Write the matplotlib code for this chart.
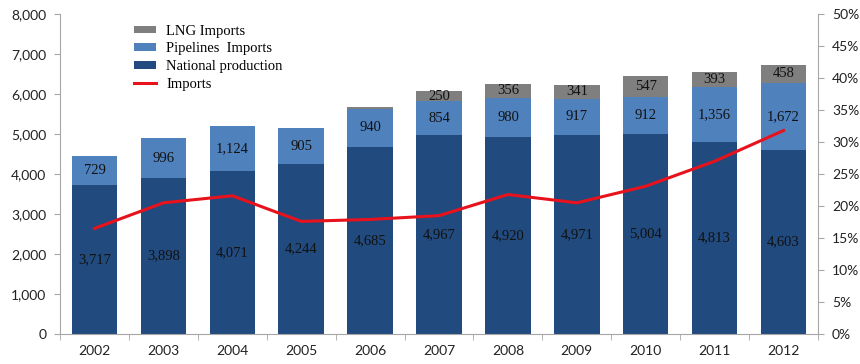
import matplotlib.pyplot as plt
import numpy as np
from matplotlib.ticker import FuncFormatter, FixedLocator

years = ["2002", "2003", "2004", "2005", "2006", "2007", "2008", "2009", "2010", "2011", "2012"]
national = [3717, 3898, 4071, 4244, 4685, 4967, 4920, 4971, 5004, 4813, 4603]
pipelines = [729, 996, 1124, 905, 940, 854, 980, 917, 912, 1356, 1672]
lng = [0, 0, 0, 0, 55, 250, 356, 341, 547, 393, 458]
imports_share = [16.5, 20.5, 21.6, 17.6, 17.9, 18.5, 21.8, 20.5, 23.1, 27.0, 31.8]

c_nat = "#214a7e"
c_pipe = "#4f81bd"
c_lng = "#7f7f7f"
c_line = "#e8121c"
c_axis = "#a6a6a6"
serif = "Liberation Serif"
tickfont = "Lato"

fig = plt.figure(figsize=(8.6, 3.64), dpi=100)
ax = fig.add_axes([0.0698, 0.0824, 0.8814, 0.879])
ax2 = ax.twinx()

x = np.arange(len(years))
w = 0.66
nat = np.array(national)
pipe = np.array(pipelines)
gas = np.array(lng)

b1 = ax.bar(x, nat, w, color=c_nat, label="National production")
b2 = ax.bar(x, pipe, w, bottom=nat, color=c_pipe, label="Pipelines  Imports")
b3 = ax.bar(x, gas, w, bottom=nat + pipe, color=c_lng, label="LNG Imports")

# value labels in the middle of each segment
for i in range(len(years)):
    ax.text(x[i], nat[i] / 2, f"{nat[i]:,}", ha="center", va="center",
            fontsize=10.5, family=serif, color="#111111")
    ax.text(x[i], nat[i] + pipe[i] / 2, f"{pipe[i]:,}", ha="center", va="center",
            fontsize=10.5, family=serif, color="#111111")
    if gas[i] >= 100:
        ax.text(x[i], nat[i] + pipe[i] + gas[i] / 2, f"{gas[i]:,}", ha="center",
                va="center", fontsize=10.5, family=serif, color="#111111")

ln, = ax2.plot(x, imports_share, color=c_line, lw=2.2, label="Imports")

ax.set_xlim(-0.5, len(years) - 0.5)
ax.set_ylim(0, 8000)
ax2.set_ylim(0, 50)
ax.set_yticks(np.arange(0, 8001, 1000))
ax2.set_yticks(np.arange(0, 51, 5))
ax.yaxis.set_major_formatter(FuncFormatter(lambda v, p: f"{int(v):,}"))
ax2.yaxis.set_major_formatter(FuncFormatter(lambda v, p: f"{int(v)}%"))

ax.set_xticks(x)
ax.set_xticklabels(years)
ax.xaxis.set_minor_locator(FixedLocator(np.arange(-0.5, len(years), 1.0)))
ax.tick_params(axis="x", which="major", length=0, pad=8)
ax.tick_params(axis="x", which="minor", length=4, color=c_axis)
ax.tick_params(axis="y", length=4, color=c_axis, pad=6)
ax2.tick_params(axis="y", length=4, color=c_axis, pad=6)

for a in (ax, ax2):
    a.spines["top"].set_visible(False)
    for s in ("left", "right", "bottom"):
        a.spines[s].set_color(c_axis)
    for lab in a.get_xticklabels() + a.get_yticklabels():
        lab.set_family(tickfont)
        lab.set_fontsize(10)
        lab.set_color("#222222")
ax.spines["right"].set_visible(False)
ax2.spines["left"].set_visible(False)
ax2.spines["bottom"].set_visible(False)

leg = ax2.legend([b3, b2, b1, ln], ["LNG Imports", "Pipelines  Imports", "National production", "Imports"],
                 loc="upper left", bbox_to_anchor=(0.09, 0.985), frameon=False,
                 prop={"family": serif, "size": 10.5}, handlelength=1.5, handleheight=0.45,
                 labelspacing=0.32, handletextpad=0.7, borderaxespad=0)

fig.savefig("out.png", dpi=100)
